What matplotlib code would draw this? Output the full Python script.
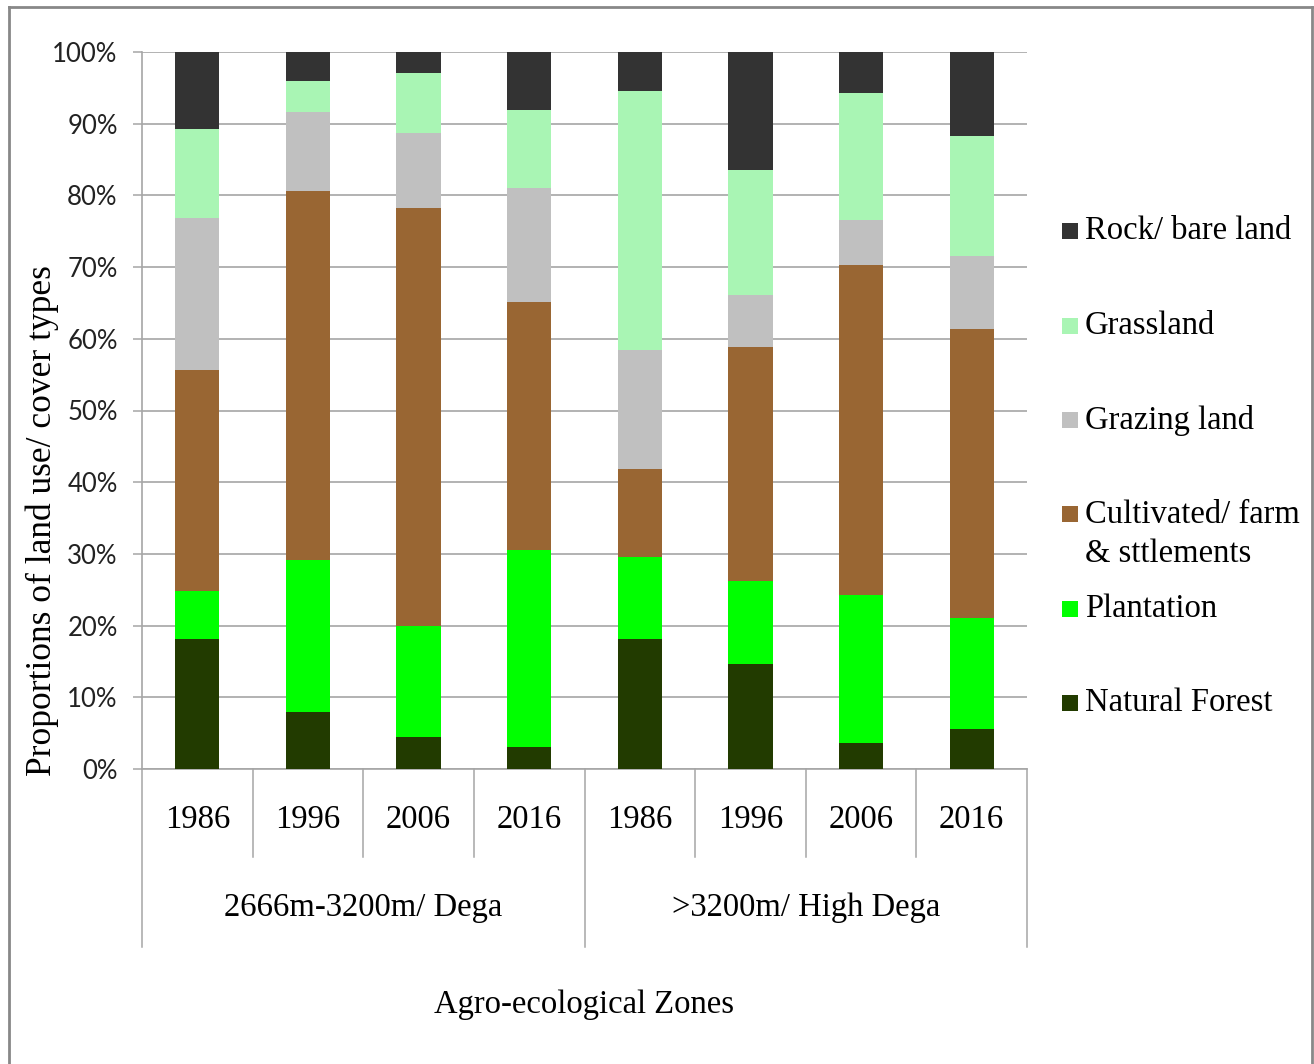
import matplotlib
matplotlib.use("Agg")
import matplotlib.pyplot as plt
from matplotlib.patches import Rectangle
from matplotlib.lines import Line2D
import matplotlib.transforms as mtransforms
import numpy as np

# Land use / cover shares (%) per agro-ecological zone and year
years = ["1986", "1996", "2006", "2016", "1986", "1996", "2006", "2016"]
zones = ["2666m-3200m/ Dega", ">3200m/ High Dega"]

natural_forest = [18.1, 7.9, 4.4, 3.0, 18.1, 14.7, 3.6, 5.6]
plantation = [6.7, 21.2, 15.6, 27.5, 11.5, 11.5, 20.6, 15.5]
cultivated = [30.8, 51.5, 58.2, 34.6, 12.2, 32.6, 46.1, 40.2]
grazing_land = [21.2, 11.1, 10.5, 15.9, 16.7, 7.3, 6.3, 10.2]
grassland = [12.5, 4.2, 8.4, 10.9, 36.1, 17.5, 17.7, 16.8]
rock_bare = [10.7, 4.1, 2.9, 8.1, 5.4, 16.4, 5.7, 11.7]

series = [
    ("Natural Forest", natural_forest, "#223B00"),
    ("Plantation", plantation, "#00FF00"),
    ("Cultivated/ farm\n& sttlements", cultivated, "#996633"),
    ("Grazing land", grazing_land, "#C0C0C0"),
    ("Grassland", grassland, "#A9F5B4"),
    ("Rock/ bare land", rock_bare, "#333333"),
]

SERIF = ["Liberation Serif", "DejaVu Serif"]
SANS = ["Lato", "DejaVu Sans"]
GRID = "#A6A6A6"

W, H = 1314, 1064
fig = plt.figure(figsize=(W / 100, H / 100), dpi=100)
fig.patch.set_facecolor("white")

ax = fig.add_axes([142 / W, 1 - 769 / H, 885 / W, 717 / H])

x = np.arange(len(years))
bottom = np.zeros(len(years))
for name, vals, color in series:
    vals = np.array(vals)
    ax.bar(x, vals, width=0.4, bottom=bottom, color=color, edgecolor="none", zorder=3)
    bottom += vals

ax.set_xlim(-0.5, len(years) - 0.5)
ax.set_ylim(0, 100)
ax.set_yticks(np.arange(0, 101, 10))
ax.set_yticklabels([f"{v}%" for v in range(0, 101, 10)], fontfamily=SANS,
                   fontsize=18.5, color="#222222")
ax.tick_params(axis="y", length=6.5, width=1.1, color=GRID, pad=11)
ax.set_xticks([])
ax.yaxis.grid(True, color=GRID, linewidth=1.2, zorder=0)
ax.set_axisbelow(True)
for side in ["top", "right"]:
    ax.spines[side].set_visible(False)
ax.spines["left"].set_color(GRID)
ax.spines["left"].set_linewidth(1.2)
ax.spines["bottom"].set_color(GRID)
ax.spines["bottom"].set_linewidth(1.2)

# Two-level category axis: years, then zones
trans = mtransforms.blended_transform_factory(ax.transData, ax.transAxes)
short_y = -88 / 717
long_y = -178 / 717
for b in np.arange(-0.5, len(years), 1.0):
    is_long = np.isclose(b, -0.5) or np.isclose(b, len(years) - 0.5) or np.isclose(b, 3.5)
    ax.add_line(Line2D([b, b], [0, long_y if is_long else short_y], transform=trans,
                       color=GRID, linewidth=1.1, clip_on=False))
for xi, yr in zip(x, years):
    ax.text(xi, -51 / 717, yr, transform=trans, ha="center", va="center",
            fontfamily=SERIF, fontsize=23.5, color="black")
for zi, zone in enumerate(zones):
    ax.text(zi * 4 + 1.5, -139 / 717, zone, transform=trans, ha="center", va="center",
            fontfamily=SERIF, fontsize=23.5, color="black")
ax.text(3.5, -236 / 717, "Agro-ecological Zones", transform=trans, ha="center",
        va="center", fontfamily=SERIF, fontsize=23.5, color="black")

fig.text(42 / W, 1 - 521 / H, "Proportions of land use/ cover types", rotation=90,
         ha="center", va="center", fontfamily=SERIF, fontsize=25.5, color="black")

# Legend, top entry first
legend_rows = [231, 326, 420, 534, 609, 703]
handle_rows = [231, 326, 420, 514, 609, 703]
for (name, _, color), ty, hy in zip(series[::-1], legend_rows, handle_rows):
    fig.patches.append(Rectangle((1062 / W, 1 - (hy + 8) / H), 16 / W, 16 / H,
                                 transform=fig.transFigure, facecolor=color,
                                 edgecolor="none"))
    fig.text(1085 / W, 1 - ty / H, name, ha="left", va="center", fontfamily=SERIF,
             fontsize=23.5, color="black", linespacing=1.35)

# Chart frame
frame_kw = dict(transform=fig.transFigure, color="#888888", linewidth=2.0)
fig.add_artist(Line2D([9 / W, 1312 / W], [1 - 7 / H, 1 - 7 / H], **frame_kw))
fig.add_artist(Line2D([9 / W, 9 / W], [1 - 7 / H, 0], **frame_kw))
fig.add_artist(Line2D([1312 / W, 1312 / W], [1 - 7 / H, 0], **frame_kw))

fig.savefig("out.png", dpi=100, facecolor="white")
